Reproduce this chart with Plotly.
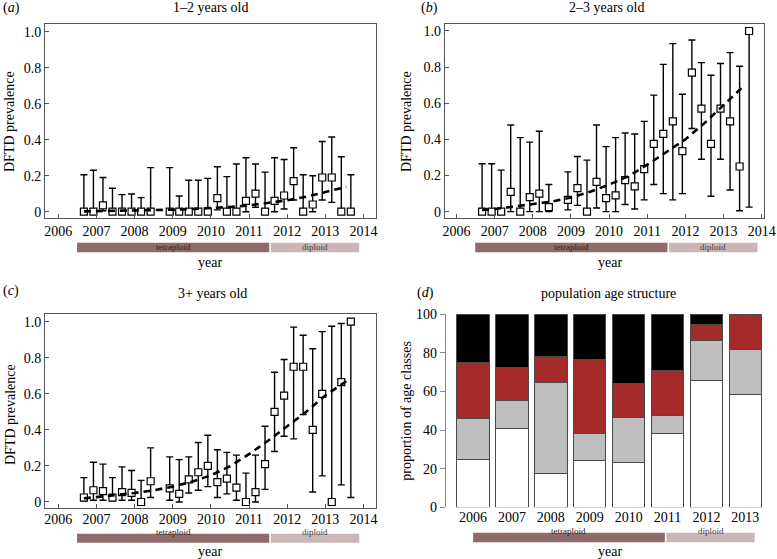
import plotly.graph_objects as go

# ---------------- data ----------------
t = [2006.67, 2006.92, 2007.17, 2007.42, 2007.67, 2007.92, 2008.17, 2008.42,
     2008.92, 2009.17, 2009.42, 2009.67, 2009.92, 2010.17, 2010.42, 2010.67,
     2010.92, 2011.17, 2011.42, 2011.67, 2011.92, 2012.17, 2012.42, 2012.67,
     2012.92, 2013.17, 2013.42, 2013.67]

a_val = [0, 0, 0.035, 0, 0, 0, 0, 0, 0, 0, 0, 0, 0, 0.075, 0, 0, 0.06, 0.10, 0, 0.06,
         0.09, 0.17, 0, 0.04, 0.19, 0.19, 0, 0]
a_up = [0.205, 0.23, 0.19, 0.13, 0.095, 0.098, 0.078, 0.245, 0.245, 0.087, 0.175, 0.175,
        0.185, 0.25, 0.195, 0.265, 0.30, 0.265, 0.22, 0.30, 0.29, 0.355, 0.205, 0.20,
        0.39, 0.415, 0.305, 0.205]
a_lo = [0, 0, 0.005, 0, 0, 0, 0, 0, 0, 0, 0, 0, 0, 0.01, 0, 0, 0, 0.025, 0, 0,
        0.015, 0.065, 0, 0, 0.065, 0.052, 0, 0]

b_val = [0, 0, 0, 0.11, 0, 0.08, 0.10, 0.025, 0.065, 0.13, 0, 0.165, 0.075, 0.09, 0.175,
         0.14, 0.235, 0.375, 0.43, 0.50, 0.335, 0.77, 0.57, 0.375, 0.57, 0.50, 0.25, 1.0]
b_up = [0.265, 0.265, 0.23, 0.48, 0.41, 0.385, 0.445, 0.15, 0.22, 0.305, 0.285, 0.48,
        0.36, 0.41, 0.435, 0.43, 0.50, 0.645, 0.815, 0.93, 0.65, 0.95, 0.825, 0.755,
        0.82, 0.88, 0.805, 1.0]
b_lo = [0, 0, 0, 0, 0, 0, 0, 0, 0.01, 0.035, 0, 0.02, 0, 0, 0.04, 0.015, 0.065, 0.15,
        0.10, 0.065, 0.10, 0.46, 0.29, 0.085, 0.29, 0.12, 0.005, 0.025]

c_val = [0.025, 0.065, 0.06, 0.025, 0.055, 0.05, 0, 0.115, 0.075, 0.045, 0.125, 0.165,
         0.20, 0.11, 0.13, 0.08, 0, 0.055, 0.21, 0.50, 0.59, 0.75, 0.75, 0.40, 0.60, 0.0,
         0.665, 1.0]
c_up = [0.135, 0.22, 0.21, 0.135, 0.195, 0.175, 0.12, 0.30, 0.25, 0.235, 0.25, 0.33,
        0.37, 0.29, 0.275, 0.26, 0.16, 0.26, 0.42, 0.72, 0.79, 0.97, 0.925, 0.85, 0.945,
        0.975, 0.99, 1.0]
c_lo = [0.005, 0.01, 0.01, 0.005, 0.01, 0.01, 0, 0.025, 0.01, 0, 0.05, 0.065, 0.085,
        0.025, 0.045, 0.01, 0, 0, 0.07, 0.28, 0.365, 0.35, 0.485, 0.055, 0.145, 0,
        0.095, 0.025]

fit_x = [2006.67, 2007.0, 2007.5, 2008.0, 2008.5, 2009.0, 2009.5, 2010.0, 2010.5,
         2011.0, 2011.5, 2012.0, 2012.5, 2013.0, 2013.55]
fit_a = [0.002, 0.003, 0.004, 0.006, 0.008, 0.011, 0.015, 0.020, 0.026, 0.035, 0.047,
         0.063, 0.083, 0.108, 0.138]
fit_b = [0.01, 0.015, 0.028, 0.04, 0.056, 0.078, 0.11, 0.15, 0.195, 0.26, 0.33, 0.40,
         0.49, 0.59, 0.70]
fit_c = [0.02, 0.027, 0.037, 0.05, 0.065, 0.085, 0.112, 0.148, 0.198, 0.265, 0.34,
         0.42, 0.50, 0.59, 0.67]

years = [2006, 2007, 2008, 2009, 2010, 2011, 2012, 2013]
age_1 = [24.9, 40.9, 17.4, 24.2, 23.1, 38.0, 65.8, 58.5]   # white
age_2 = [21.2, 14.4, 47.2, 13.8, 23.4, 9.5, 20.6, 23.5]    # grey
age_3 = [28.7, 17.2, 13.5, 38.7, 17.6, 23.5, 8.1, 18.0]    # red
age_4 = [25.2, 27.5, 21.9, 23.3, 35.9, 29.0, 5.5, 0.0]     # black

ytick_vals = [0, 0.2, 0.4, 0.6, 0.8, 1.0]
ytick_text = ["0", "0.2", "0.4", "0.6", "0.8", "1.0"]
xtick_vals = [2006, 2007, 2008, 2009, 2010, 2011, 2012, 2013, 2014]

# period bars (start, end) in years
tetra_ac = (2006.49, 2011.53)
dip_ac = (2011.57, 2013.89)
tetra_d = (2006.0, 2010.93)
dip_d = (2010.97, 2013.24)

# ---------------- figure ----------------
W, H = 777, 559
FONT = "Liberation Serif, Times New Roman, serif"
fig = go.Figure()

def px_x(p):
    return p / W

def px_y(p):
    return 1 - p / H

panels = [
    ("x", "y", a_val, a_up, a_lo, fit_a),
    ("x2", "y2", b_val, b_up, b_lo, fit_b),
    ("x3", "y3", c_val, c_up, c_lo, fit_c),
]
for xa, ya, v, up, lo, fit in panels:
    fig.add_trace(go.Scatter(
        x=t, y=v, mode="markers", xaxis=xa, yaxis=ya, showlegend=False,
        marker=dict(symbol="square", size=7, color="white",
                    line=dict(color="black", width=1.2)),
        error_y=dict(type="data", symmetric=False,
                     array=[u - val for u, val in zip(up, v)],
                     arrayminus=[val - l for val, l in zip(v, lo)],
                     color="black", thickness=1.4, width=3.5),
    ))
    fig.add_trace(go.Scatter(
        x=fit_x, y=fit, mode="lines", xaxis=xa, yaxis=ya, showlegend=False,
        line=dict(color="black", width=2.6, dash="7px,5px"),
    ))

# stacked bars
for vals, col in [(age_1, "white"), (age_2, "#bebebe"), (age_3, "#a52a2a"), (age_4, "black")]:
    fig.add_trace(go.Bar(
        x=years, y=vals, xaxis="x4", yaxis="y4", width=0.83, showlegend=False,
        marker=dict(color=col, line=dict(color="#4a4a4a", width=1)),
    ))

frame = dict(showline=True, linecolor="#555555", linewidth=1, mirror=True,
             ticks="inside", ticklen=4, tickcolor="#555555", showgrid=False,
             zeroline=False, tickfont=dict(family=FONT, size=14, color="black"))

dom_ab_y = [px_y(218.3), px_y(24.3)]
dom_c_y = [px_y(508.3), px_y(314.3)]
dom_left_x = [px_x(45), px_x(376)]
dom_right_x = [px_x(444.7), px_x(764)]

fig.update_layout(
    width=W, height=H, autosize=False,
    margin=dict(l=0, r=0, t=0, b=0, pad=0, autoexpand=False),
    paper_bgcolor="white", plot_bgcolor="white", barmode="stack", bargap=0.17,
    showlegend=False,
    font=dict(family=FONT, size=14, color="black"),
    xaxis=dict(domain=dom_left_x, range=[2005.65, 2014.33], tickvals=xtick_vals,
               anchor="y", **frame),
    yaxis=dict(domain=dom_ab_y, range=[-0.0367, 1.041], tickvals=ytick_vals,
               ticktext=ytick_text, anchor="x", **frame),
    xaxis2=dict(domain=dom_right_x, range=[2005.69, 2014.06], tickvals=xtick_vals,
                anchor="y2", **frame),
    yaxis2=dict(domain=dom_ab_y, range=[-0.0367, 1.037], tickvals=ytick_vals,
                ticktext=ytick_text, anchor="x2", **frame),
    xaxis3=dict(domain=dom_left_x, range=[2005.65, 2014.33], tickvals=xtick_vals,
                anchor="y3", ticklabelstandoff=-2, **frame),
    yaxis3=dict(domain=dom_c_y, range=[-0.035, 1.041], tickvals=ytick_vals,
                ticktext=ytick_text, anchor="x3", **frame),
    xaxis4=dict(domain=dom_right_x, range=[2005.27, 2013.48], tickvals=years,
                anchor="y4", showline=False, ticks="", showgrid=False, zeroline=False,
                tickfont=dict(family=FONT, size=14, color="black")),
    yaxis4=dict(domain=[px_y(507.3), px_y(314.3)], range=[0, 100],
                tickvals=[0, 20, 40, 60, 80, 100], anchor="free", position=px_x(444.7),
                showline=True, linecolor="#888888", linewidth=1, ticks="outside",
                ticklen=5, tickcolor="#888888", showgrid=False, zeroline=False,
                tickfont=dict(family=FONT, size=14, color="black")),
)

# period bars
shapes = []
annots = []
TETRA = "#8f6a6a"
DIP = "#c9b6b6"
for xa, (ty0, ty1), tet, dip in [
    ("x", (px_y(252.3), px_y(242.7)), tetra_ac, dip_ac),
    ("x2", (px_y(252.3), px_y(242.7)), tetra_ac, dip_ac),
    ("x3", (px_y(542.7), px_y(533.7)), tetra_ac, dip_ac),
    ("x4", (px_y(542.2), px_y(532.7)), tetra_d, dip_d),
]:
    for (s, e), col, lab, tcol in [(tet, TETRA, "tetraploid", "#2e2020"),
                                   (dip, DIP, "diploid", "#4a3a3a")]:
        shapes.append(dict(type="rect", xref=xa, yref="paper", x0=s, x1=e, y0=ty0, y1=ty1,
                           fillcolor=col, line=dict(width=0), layer="above"))
        annots.append(dict(x=(s + e) / 2, y=(ty0 + ty1) / 2, xref=xa, yref="paper",
                           text=lab, showarrow=False, borderpad=0,
                           font=dict(family=FONT, size=9, color=tcol)))

def txt(x, y, s, size=14, angle=0, xanchor="center", italic=False):
    annots.append(dict(x=px_x(x), y=px_y(y), xref="paper", yref="paper",
                       text=("<i>" + s[1] + "</i>").join(["(", ")"]) if italic else s,
                       showarrow=False, textangle=angle, xanchor=xanchor, yanchor="middle",
                       borderpad=0, font=dict(family=FONT, size=size, color="black")))

# panel letters
txt(2, 8, "(a)", xanchor="left", italic=True)
txt(420, 8, "(b)", xanchor="left", italic=True)
txt(2, 291, "(c)", xanchor="left", italic=True)
txt(416, 293, "(d)", xanchor="left", italic=True)
# titles
txt(210.7, 8, "1–2 years old")
txt(606, 8, "2–3 years old")
txt(212.5, 293, "3+ years old")
txt(608.8, 293, "population age structure")
# axis titles
txt(10, 122, "DFTD prevalence", angle=-90)
txt(407, 122, "DFTD prevalence", angle=-90)
txt(10, 415, "DFTD prevalence", angle=-90)
txt(407, 410.7, "proportion of age classes", angle=-90)
txt(210.5, 262, "year")
txt(609.7, 262, "year")
txt(210.5, 551, "year")
txt(609.7, 551, "year")

fig.update_layout(shapes=shapes, annotations=annots)
fig.write_html(
    "out.html",
    config={"displayModeBar": False},
    post_script=("document.body.style.margin='0';"
                 "var d=document.getElementById('{plot_id}');"
                 "d.style.position='absolute';d.style.left='0px';d.style.top='0px';"),
)
